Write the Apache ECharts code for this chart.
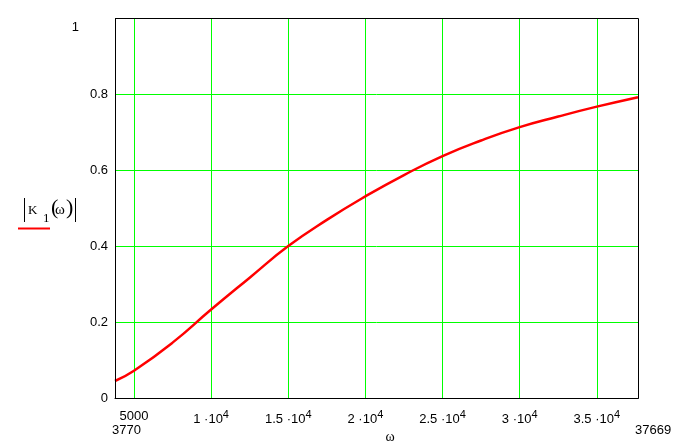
<!DOCTYPE html>
<html>
<head>
<meta charset="utf-8">
<script src="https://cdn.jsdelivr.net/npm/echarts@6/dist/echarts.min.js"></script>
<style>html,body{margin:0;padding:0;background:#fff;}#c{width:688px;height:443px;}</style>
</head>
<body>
<div id="c"></div>
<script>
var omega = [3770, 5000, 7500, 10000, 12500, 15000, 17500, 20000, 22500, 25000, 27500, 30000, 32500, 35000, 37669];
var k1 = [0.046, 0.073, 0.147, 0.234, 0.318, 0.401, 0.470, 0.532, 0.588, 0.638, 0.679, 0.714, 0.742, 0.768, 0.793];
var xTicks = [5000, 10000, 15000, 20000, 25000, 30000, 35000];
var xLimits = [3770, 37669];
var yTicks = [0, 0.2, 0.4, 0.6, 0.8, 1];

var FONT = "'Liberation Sans', Arial, sans-serif";
var SERIF = "'Liberation Serif', 'DejaVu Serif', serif";

var chart = echarts.init(document.getElementById('c'), null, {renderer: 'canvas'});

function fmtX(v) {
  if (v === 5000) return '5000';
  var m = v / 10000;
  return m + ' \u00b710{sup|4}';
}

var option = {
  animation: false,
  backgroundColor: '#fff',
  grid: {left: 115, right: 50, top: 18.5, bottom: 44.5, show: false, containLabel: false, outerBoundsMode: 'none'},
  xAxis: [{
    type: 'value', min: xLimits[0], max: xLimits[1], position: 'bottom',
    name: '\u03c9', nameLocation: 'middle', nameGap: 29,
    nameTextStyle: {fontFamily: SERIF, fontSize: 14, color: '#000', padding: [0, 0, 0, 27]},
    axisLine: {show: true, lineStyle: {color: '#000', width: 1}},
    axisTick: {show: false, customValues: xTicks},
    splitLine: {show: true, lineStyle: {color: '#00ff00', width: 1}},
    axisLabel: {
      customValues: xTicks, margin: 11, color: '#000', fontFamily: FONT, fontSize: 13,
      align: 'center', verticalAlign: 'top',
      alignMinLabel: 'center', alignMaxLabel: 'center',
      formatter: fmtX,
      rich: {sup: {fontFamily: FONT, fontSize: 11, color: '#000', verticalAlign: 'top', padding: [0, 0, 8, 0]}}
    }
  }, {
    type: 'value', min: xLimits[0], max: xLimits[1], position: 'bottom', offset: 14,
    axisLine: {show: false}, axisTick: {show: false}, splitLine: {show: false},
    axisLabel: {
      customValues: xLimits, margin: 11, color: '#000', fontFamily: FONT, fontSize: 13,
      align: 'left', verticalAlign: 'top', alignMinLabel: 'left', alignMaxLabel: 'left',
      padding: [0, 0, 0, -3],
      formatter: function (v) { return String(v); }
    }
  }],
  yAxis: {
    type: 'value', min: 0, max: 1, interval: 0.2,
    axisLine: {show: true, lineStyle: {color: '#000', width: 1}},
    axisTick: {show: false},
    splitLine: {show: true, lineStyle: {color: '#00ff00', width: 1}},
    axisLabel: {
      margin: 7, color: '#000', fontFamily: FONT, fontSize: 13,
      align: 'right', verticalAlign: 'middle',
      verticalAlignMinLabel: 'middle', verticalAlignMaxLabel: 'middle',
      formatter: function (v) { return v === 1 ? '{lim|1}' : String(v); },
      rich: {lim: {fontFamily: FONT, fontSize: 13, color: '#000', padding: [18, 29, 0, 0]}}
    }
  },
  series: [{
    type: 'line', xAxisIndex: 0, smooth: true, symbol: 'none',
    data: omega.map(function (w, i) { return [w, k1[i]]; }),
    lineStyle: {color: '#ff0000', width: 2.5},
    z: 5
  }],
  graphic: [
    {type: 'rect', shape: {x: 115.5, y: 18.5, width: 523, height: 380}, style: {fill: 'none', stroke: '#000', lineWidth: 1}, z: 10, silent: true},
    {type: 'line', shape: {x1: 24.5, y1: 198, x2: 24.5, y2: 222}, style: {stroke: '#000', lineWidth: 1}},
    {type: 'line', shape: {x1: 75.5, y1: 198, x2: 75.5, y2: 222}, style: {stroke: '#000', lineWidth: 1}},
    {type: 'text', x: 28, y: 211, style: {text: 'K', font: '13px ' + SERIF, fill: '#000', verticalAlign: 'middle'}},
    {type: 'text', x: 43, y: 219, style: {text: '1', font: '13px ' + SERIF, fill: '#000', verticalAlign: 'middle'}},
    {type: 'text', x: 51, y: 208.5, style: {text: '(', font: '22px ' + SERIF, fill: '#000', verticalAlign: 'middle'}},
    {type: 'text', x: 55, y: 210, style: {text: '\u03c9', font: '15px ' + SERIF, fill: '#000', verticalAlign: 'middle'}},
    {type: 'text', x: 66, y: 208.5, style: {text: ')', font: '22px ' + SERIF, fill: '#000', verticalAlign: 'middle'}},
    {type: 'line', shape: {x1: 18, y1: 228.5, x2: 50, y2: 228.5}, style: {stroke: '#ff0000', lineWidth: 2}}
  ]
};
chart.setOption(option);
</script>
</body>
</html>
